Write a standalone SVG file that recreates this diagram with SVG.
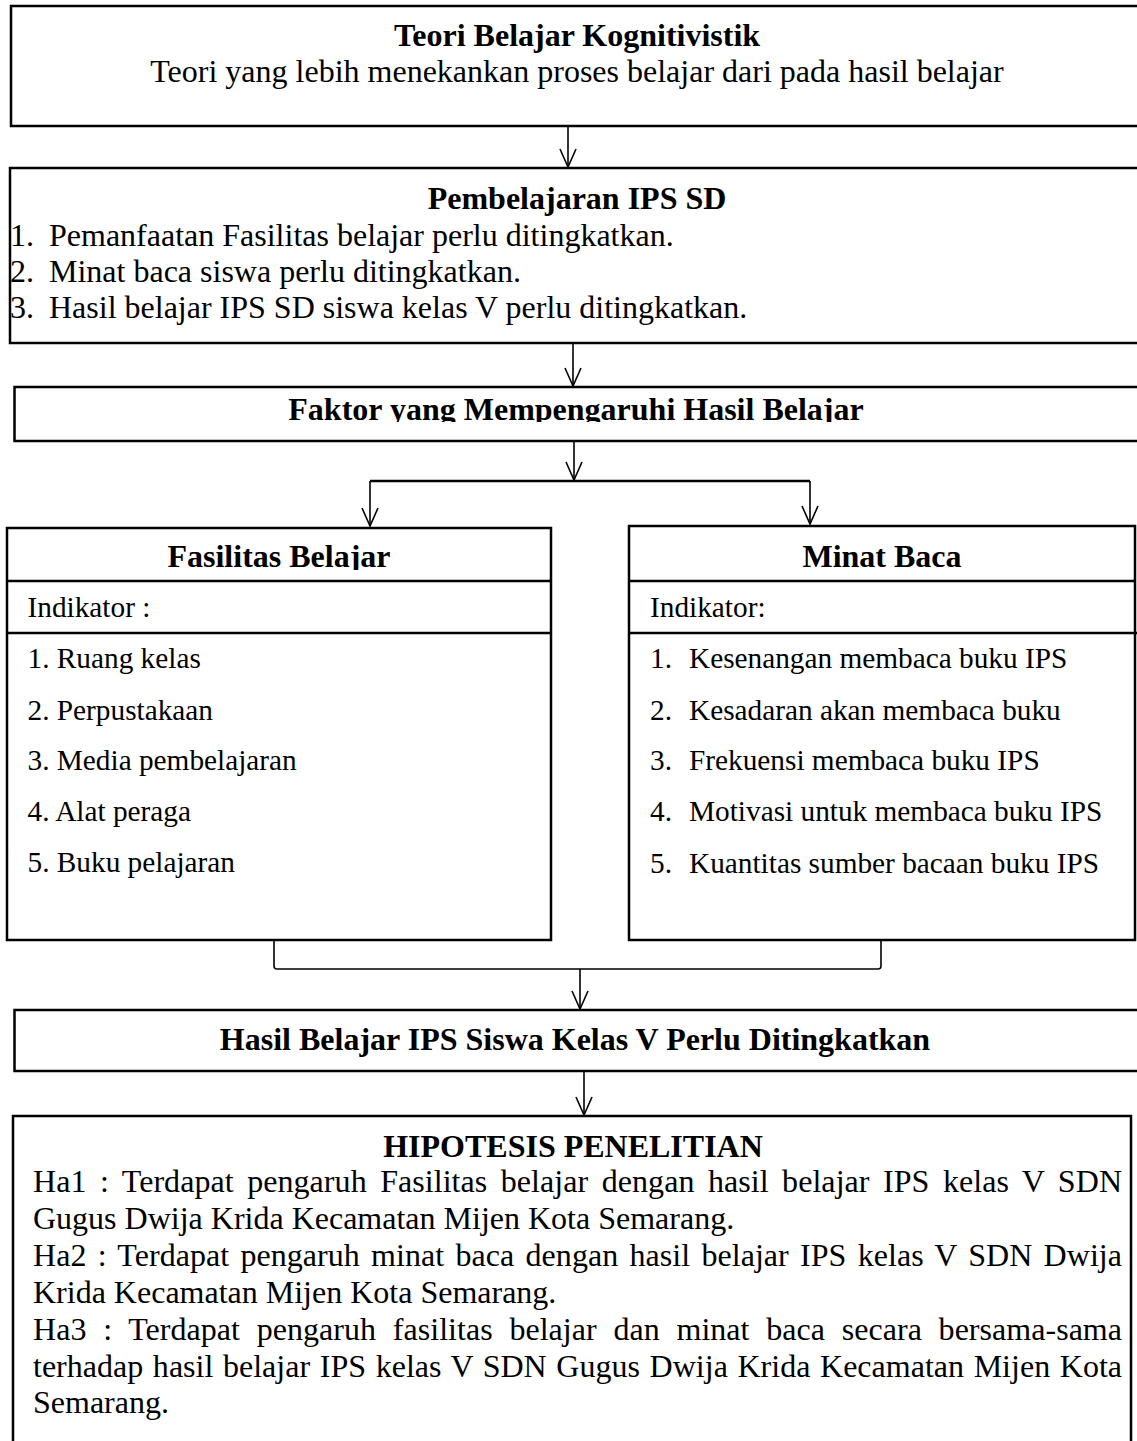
<svg xmlns="http://www.w3.org/2000/svg" width="1137" height="1441" viewBox="0 0 1137 1441">
<style>
text{font-family:"Liberation Serif","Times New Roman",serif;fill:#000}
.t{font-size:32px}
.b{font-size:32px;font-weight:bold}
.s{font-size:29.3px}
.box{fill:#fff;stroke:#000;stroke-width:2.5}
.sep{stroke:#000;stroke-width:2.5}
.con{fill:none;stroke:#000;stroke-width:1.6}
.bar{fill:none;stroke:#000;stroke-width:2.5}
</style>
<defs>
<marker id="arr" viewBox="-1 -10 21 20" refX="18" refY="0" markerWidth="21" markerHeight="20" markerUnits="userSpaceOnUse" orient="auto">
<path d="M0,-8 L18,0 L0,8" fill="none" stroke="#000" stroke-width="1.6"/>
</marker>
<clipPath id="clipFaktor"><rect x="0" y="380" width="1137" height="42"/></clipPath>
<clipPath id="clipFas"><rect x="0" y="530" width="600" height="40"/></clipPath>
</defs>

<g id="node-teori">
<rect class="box" x="11" y="6" width="1140" height="120"/>
<text class="b" x="577" y="46" text-anchor="middle">Teori Belajar Kognitivistik</text>
<text class="t" x="577" y="82" text-anchor="middle">Teori yang lebih menekankan proses belajar dari pada hasil belajar</text>
</g>

<g id="node-pembelajaran">
<rect class="box" x="10" y="168" width="1140" height="175"/>
<text class="b" x="577" y="209" text-anchor="middle">Pembelajaran IPS SD</text>
<text class="t" y="246"><tspan x="10">1.</tspan><tspan x="49">Pemanfaatan Fasilitas belajar perlu ditingkatkan.</tspan></text>
<text class="t" y="282"><tspan x="10">2.</tspan><tspan x="49">Minat baca siswa perlu ditingkatkan.</tspan></text>
<text class="t" y="318"><tspan x="10">3.</tspan><tspan x="49">Hasil belajar IPS SD siswa kelas V perlu ditingkatkan.</tspan></text>
</g>

<g id="node-faktor">
<rect class="box" x="14.5" y="387" width="1140" height="54"/>
<text class="b" x="576" y="420" text-anchor="middle" clip-path="url(#clipFaktor)">Faktor yang Mempengaruhi Hasil Belajar</text>
</g>

<g id="node-fasilitas">
<rect class="box" x="7" y="528" width="544" height="412"/>
<line class="sep" x1="7" y1="581" x2="551" y2="581"/>
<line class="sep" x1="7" y1="633" x2="551" y2="633"/>
<text class="b" x="279" y="567" text-anchor="middle" clip-path="url(#clipFas)">Fasilitas Belajar</text>
<text class="s" x="27.5" y="617">Indikator :</text>
<text class="s" x="27.5" y="668">1. Ruang kelas</text>
<text class="s" x="27.5" y="720">2. Perpustakaan</text>
<text class="s" x="27.5" y="770">3. Media pembelajaran</text>
<text class="s" x="27.5" y="821">4. Alat peraga</text>
<text class="s" x="27.5" y="872">5. Buku pelajaran</text>
</g>

<g id="node-minat">
<rect class="box" x="629" y="526" width="506" height="414"/>
<line class="sep" x1="629" y1="581" x2="1135" y2="581"/>
<line class="sep" x1="629" y1="633" x2="1137" y2="633"/>
<text class="b" x="882" y="567" text-anchor="middle">Minat Baca</text>
<text class="s" x="650" y="617">Indikator:</text>
<text class="s" y="668"><tspan x="650">1.</tspan><tspan x="689">Kesenangan membaca buku IPS</tspan></text>
<text class="s" y="720"><tspan x="650">2.</tspan><tspan x="689">Kesadaran akan membaca buku</tspan></text>
<text class="s" y="770"><tspan x="650">3.</tspan><tspan x="689">Frekuensi membaca buku IPS</tspan></text>
<text class="s" y="821"><tspan x="650">4.</tspan><tspan x="689">Motivasi untuk membaca buku IPS</tspan></text>
<text class="s" y="873"><tspan x="650">5.</tspan><tspan x="689">Kuantitas sumber bacaan buku IPS</tspan></text>
</g>

<g id="node-hasil">
<rect class="box" x="14.5" y="1010" width="1140" height="61"/>
<text class="b" x="575" y="1050" text-anchor="middle">Hasil Belajar IPS Siswa Kelas V Perlu Ditingkatkan</text>
</g>

<g id="node-hipotesis">
<rect class="box" x="13" y="1116" width="1118" height="340"/>
<text class="b" x="573" y="1157" text-anchor="middle">HIPOTESIS PENELITIAN</text>
<text class="t" x="33" y="1192" word-spacing="5.4" textLength="1089" lengthAdjust="spacing">Ha1 : Terdapat pengaruh Fasilitas belajar dengan hasil belajar IPS kelas V SDN</text>
<text class="t" x="33" y="1229">Gugus Dwija Krida Kecamatan Mijen Kota Semarang.</text>
<text class="t" x="33" y="1266" word-spacing="3.2" textLength="1089" lengthAdjust="spacing">Ha2 : Terdapat pengaruh minat baca dengan hasil belajar IPS kelas V SDN Dwija</text>
<text class="t" x="33" y="1303">Krida Kecamatan Mijen Kota Semarang.</text>
<text class="t" x="33" y="1340" word-spacing="8.7" textLength="1089" lengthAdjust="spacing">Ha3 : Terdapat pengaruh fasilitas belajar dan minat baca secara bersama-sama</text>
<text class="t" x="33" y="1377" word-spacing="1.6" textLength="1089" lengthAdjust="spacing">terhadap hasil belajar IPS kelas V SDN Gugus Dwija Krida Kecamatan Mijen Kota</text>
<text class="t" x="33" y="1413">Semarang.</text>
</g>

<g id="connectors">
<path class="con" d="M568,126 V167" marker-end="url(#arr)"/>
<path class="con" d="M573,343 V386" marker-end="url(#arr)"/>
<path class="con" d="M574,441 V480" marker-end="url(#arr)"/>
<path class="bar" d="M370,481 H810"/>
<path class="con" d="M370,481 V526" marker-end="url(#arr)"/>
<path class="con" d="M810,481 V524" marker-end="url(#arr)"/>
<path class="con" d="M274,940 V966 Q274,969 277,969 H878 Q881,969 881,966 V940"/>
<path class="con" d="M580,969 V1009" marker-end="url(#arr)"/>
<path class="con" d="M584,1071 V1115" marker-end="url(#arr)"/>
</g>
</svg>
